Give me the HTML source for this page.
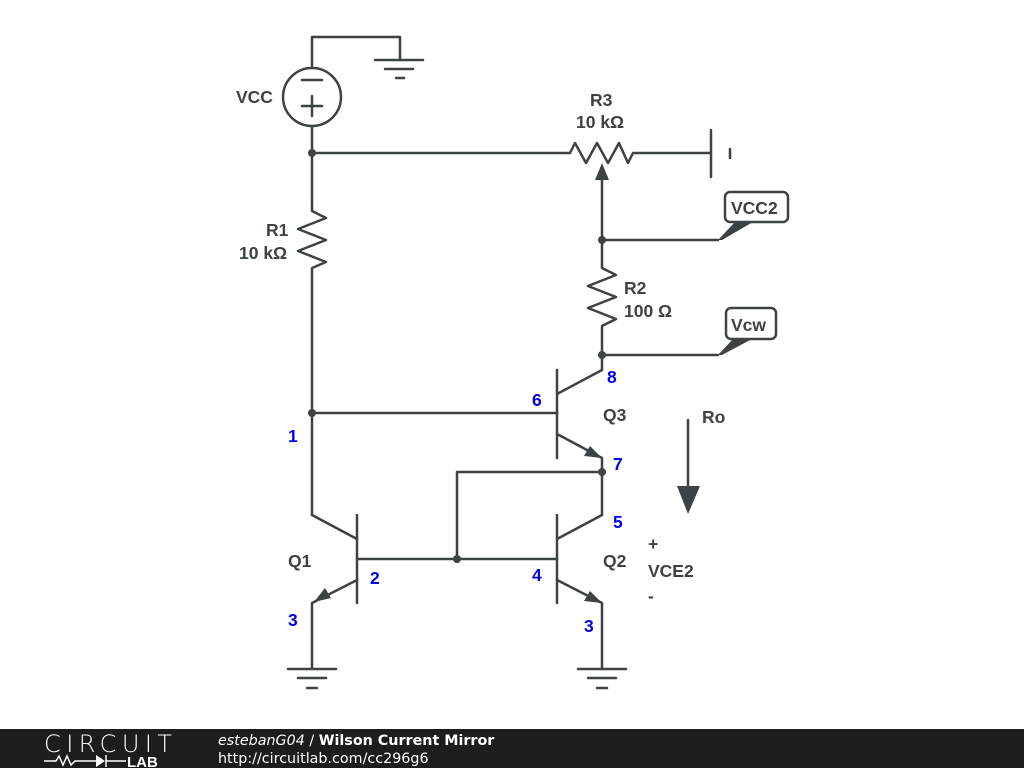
<!DOCTYPE html>
<html><head><style>
html,body{margin:0;padding:0;background:#fff;}
svg{display:block;}
text{font-family:"Liberation Sans","DejaVu Sans",sans-serif;}
</style></head><body>
<svg width="1024" height="768" viewBox="0 0 1024 768">
<g stroke="#3d4245" stroke-width="2.5" fill="none" stroke-linecap="round" stroke-linejoin="round">
<circle cx="312" cy="97" r="29"/>
<line x1="302" y1="80" x2="322" y2="80"/>
<line x1="302" y1="106" x2="322" y2="106"/><line x1="312" y1="96" x2="312" y2="116"/>
<polyline points="312,68 312,37 400,37 400,60"/>
<line x1="375" y1="60" x2="423" y2="60"/><line x1="385" y1="69" x2="413" y2="69"/><line x1="396" y1="78" x2="404" y2="78"/>
<line x1="312" y1="126" x2="312" y2="205"/>
<line x1="312" y1="153" x2="570" y2="153"/>
<polyline points="570,153 575,143 586,163 597,143 608,163 619,143 628,163 633,153 711,153"/>
<line x1="711" y1="130" x2="711" y2="177"/><line x1="730" y1="149" x2="730" y2="158"/>
<line x1="602" y1="176" x2="602" y2="265"/>
<polyline points="312,205 312,211 326,218 298,229 326,240 298,251 326,262 312,268 312,515"/>
<line x1="312" y1="413" x2="557" y2="413"/>
<line x1="602" y1="240" x2="718" y2="240"/>
<line x1="602" y1="355" x2="718" y2="355"/>
<rect x="725" y="192" width="63" height="30" rx="5"/>
<rect x="726" y="308" width="50" height="31" rx="5"/>
<polyline points="602,265 602,268 616,275 588,286 616,297 588,308 616,319 602,326 602,355"/>
<line x1="557" y1="370" x2="557" y2="458"/>
<polyline points="557,394 602,370 602,355"/>
<polyline points="557,434 602,458 602,515"/>
<polyline points="602,472 457,472 457,559"/>
<line x1="557" y1="515" x2="557" y2="603"/>
<line x1="357" y1="559" x2="557" y2="559"/>
<polyline points="602,515 557,539"/>
<polyline points="557,580 602,603 602,668"/>
<line x1="578" y1="669" x2="626" y2="669"/><line x1="588" y1="678" x2="616" y2="678"/><line x1="597" y1="688" x2="607" y2="688"/>
<line x1="357" y1="515" x2="357" y2="603"/>
<polyline points="312,515 357,539"/>
<polyline points="357,580 312,603 312,668"/>
<line x1="288" y1="669" x2="336" y2="669"/><line x1="298" y1="678" x2="326" y2="678"/><line x1="307" y1="688" x2="317" y2="688"/>
<line x1="688" y1="420" x2="688" y2="490"/>
</g>
<g fill="#3d4245">
<circle cx="312" cy="153" r="4"/><circle cx="602" cy="240" r="4"/><circle cx="602" cy="355" r="4"/>
<circle cx="312" cy="413" r="4"/><circle cx="602" cy="472" r="4"/><circle cx="457" cy="559" r="4"/>
<polygon points="602,163 595,180 609,180"/>
<polygon points="718,240 735,222 753,222 722,240"/>
<polygon points="718,355 733,339 752,339 722,355"/>
<polygon points="602,458 584,456 590,446"/>
<polygon points="602,603 584,601 590,591"/>
<polygon points="314,602 325,588 331,598"/>
<polygon points="677,486 700,486 688,514"/>
</g>
<g fill="#3d4245" font-weight="bold" font-size="17.5">
<text x="236" y="103">VCC</text>
<text x="590" y="106">R3</text>
<text x="576" y="128">10 kΩ</text>
<text x="266" y="236">R1</text>
<text x="239" y="259">10 kΩ</text>
<text x="624" y="294">R2</text>
<text x="624" y="317">100 Ω</text>
<text x="731" y="214">VCC2</text>
<text x="731" y="331">Vcw</text>
<text x="603" y="421">Q3</text>
<text x="603" y="567">Q2</text>
<text x="288" y="567">Q1</text>
<text x="702" y="423">Ro</text>
<text x="648" y="550">+</text>
<text x="648" y="577">VCE2</text>
<text x="648" y="602">-</text>
</g>
<g fill="#0000ee" font-weight="bold" font-size="17.5">
<text x="607" y="383">8</text>
<text x="532" y="406">6</text>
<text x="288" y="442">1</text>
<text x="613" y="470">7</text>
<text x="613" y="528">5</text>
<text x="370" y="584">2</text>
<text x="532" y="581">4</text>
<text x="288" y="626">3</text>
<text x="584" y="632">3</text>
</g>
<rect x="0" y="729" width="1024" height="39" fill="#1d1d1d"/>
<text x="44" y="752" fill="#fff" font-size="24" style="font-family:'DejaVu Sans',sans-serif;font-weight:200" textLength="128">CIRCUIT</text>
<g stroke="#fff" stroke-width="1.5" fill="none">
<polyline points="44,761 56,761 59,756 63,765 67,756 71,765 75,761 96,761"/>
<line x1="106" y1="761" x2="126" y2="761"/><line x1="106" y1="755" x2="106" y2="767"/>
</g>
<polygon points="96,755 96,767 105,761" fill="#fff"/>
<text x="127" y="767" fill="#fff" font-size="15" font-weight="bold">LAB</text>
<text x="218" y="745" fill="#fff" font-size="14.3" style="font-family:'DejaVu Sans',sans-serif"><tspan font-style="italic">estebanG04</tspan> / <tspan font-weight="bold">Wilson Current Mirror</tspan></text>
<text x="218" y="763" fill="#fff" font-size="14.3" style="font-family:'DejaVu Sans',sans-serif">http://circuitlab.com/cc296g6</text>
</svg>
</body></html>
